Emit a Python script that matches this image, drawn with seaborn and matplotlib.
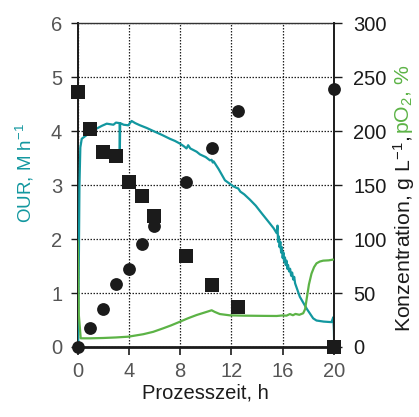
import matplotlib
matplotlib.use("Agg")
import matplotlib.pyplot as plt
import seaborn as sns
import pandas as pd

# ---------------- data ----------------
# squares (concentration, g/L)
sq_time = [0.0, 1.0, 2.0, 3.0, 4.0, 5.0, 6.0, 8.5, 10.5, 12.5, 20.0]
sq_conc = [236, 202, 181, 177, 153, 140, 121, 84, 57, 37, 0]
# circles (concentration, g/L)
ci_time = [0.0, 1.0, 2.0, 3.0, 4.0, 5.0, 6.0, 8.5, 10.5, 12.5, 20.0]
ci_conc = [0, 18, 35, 58, 72, 95, 112, 153, 184, 219, 239]

# OUR line (M/h)
our_time = [0.05, 0.1, 0.15, 0.22, 0.33, 0.72, 1.1, 1.5, 1.9, 2.28, 2.8, 3.0, 3.28, 3.3, 3.33,
            3.6, 3.96, 4.22, 4.5, 4.87, 5.4, 6.04, 6.6, 7.2, 7.6, 7.99, 8.3, 8.5, 8.63, 8.8,
            9.29, 9.55, 10.0, 10.33, 10.46, 10.55, 10.62, 11.0, 11.5, 12.14, 12.4, 12.53, 12.7,
            13.0, 13.45, 13.9, 14.36, 14.9, 15.3, 15.53, 15.6, 15.64, 15.7, 15.76, 15.82, 15.88,
            15.94, 16.0, 16.06, 16.12, 16.18, 16.24, 16.3, 16.36, 16.42, 16.5, 16.58, 16.66,
            16.74, 16.82, 16.9, 16.97, 17.34, 17.9, 18.38, 18.64, 19.2, 19.81, 19.95, 20.0, 20.02]
our_vals = [0.0, 1.5, 3.0, 3.7, 3.86, 3.93, 4.0, 4.05, 4.1, 4.14, 4.12, 4.16, 4.15, 3.65, 4.15,
            4.12, 4.11, 4.19, 4.15, 4.11, 4.06, 3.99, 3.93, 3.86, 3.82, 3.77, 3.72, 3.68, 3.74, 3.68,
            3.62, 3.57, 3.52, 3.46, 3.47, 3.42, 3.44, 3.3, 3.09, 2.98, 2.95, 2.94, 2.88,
            2.83, 2.73, 2.62, 2.48, 2.32, 2.2, 2.11, 2.25, 1.95, 2.05, 1.85, 1.95, 1.75,
            1.85, 1.65, 1.75, 1.58, 1.66, 1.52, 1.6, 1.45, 1.52, 1.4, 1.45, 1.32,
            1.38, 1.25, 1.3, 1.18, 0.93, 0.7, 0.53, 0.49, 0.47, 0.46, 0.55, 0.3, 0.0]

# pO2 line (%)
po2_time = [0.0, 0.02, 0.1, 0.25, 1.0, 2.0, 3.0, 3.96, 5.13, 5.9, 6.69, 7.3, 7.99, 8.6, 9.29,
            9.8, 10.2, 10.46, 10.7, 11.1, 11.88, 13.0, 14.5, 15.53, 16.0, 16.3, 16.56, 16.8, 17.0,
            17.3, 17.6, 17.75, 17.86, 18.05, 18.25, 18.45, 18.64, 18.9, 19.16, 19.6, 19.94]
po2_vals = [99, 95, 30, 8, 8, 8.3, 8.8, 9.5, 11.8, 14.0, 17.3, 20.0, 23.4, 26.5, 29.6,
            31.5, 33.0, 34.0, 32.5, 30.5, 29.3, 29.0, 28.8, 28.7, 29.2, 29.0, 30.5, 29.4, 30.6,
            29.8, 31.2, 35.0, 43.5, 58.0, 68.0, 74.0, 77.5, 79.2, 80.0, 80.3, 81.0]

x_ticks = [0, 4, 8, 12, 16, 20]
y_left_ticks = [0, 1, 2, 3, 4, 5, 6]
y_right_ticks = [0, 50, 100, 150, 200, 250, 300]

# ---------------- style ----------------
sns.set_theme(style="white")
plt.rcParams['font.family'] = ['Liberation Sans', 'DejaVu Sans']
plt.rcParams['mathtext.fontset'] = 'custom'
plt.rcParams['mathtext.rm'] = 'Liberation Sans'
plt.rcParams['mathtext.it'] = 'Liberation Sans'

TEAL = "#12979f"
GREEN = "#5cb346"
BLACK = "#1b1b1b"
GRAY = "#555555"
FS = 14.5

fig = plt.figure(figsize=(4.19, 4.17), dpi=100)
ax = fig.add_axes([0.185, 0.168, 0.612, 0.776])
ax2 = ax.twinx()

df_our = pd.DataFrame({"t": our_time, "v": our_vals})
df_po2 = pd.DataFrame({"t": po2_time, "v": po2_vals})
df_sq = pd.DataFrame({"t": sq_time, "c": sq_conc})
df_ci = pd.DataFrame({"t": ci_time, "c": ci_conc})

sns.lineplot(data=df_our, x="t", y="v", ax=ax, color=TEAL, lw=1.6, sort=False,
             estimator=None, zorder=3)
sns.lineplot(data=df_po2, x="t", y="v", ax=ax2, color=GREEN, lw=1.6, sort=False,
             estimator=None, zorder=3)
sns.scatterplot(data=df_sq, x="t", y="c", ax=ax2, marker="s", s=95, color=BLACK,
                edgecolor=BLACK, linewidth=0, zorder=5, clip_on=False)
sns.scatterplot(data=df_ci, x="t", y="c", ax=ax2, marker="o", s=85, color=BLACK,
                edgecolor=BLACK, linewidth=0, zorder=5, clip_on=False)

ax.set_xlim(0, 20)
ax.set_ylim(0, 6)
ax2.set_ylim(0, 300)
ax.set_xticks(x_ticks)
ax.set_yticks(y_left_ticks)
ax2.set_yticks(y_right_ticks)

ax.grid(True, which="major", linestyle=(0, (1.2, 1.2)), color="#222222", lw=0.9)
ax.set_axisbelow(True)

for a in (ax, ax2):
    for s in a.spines.values():
        s.set_visible(False)
ax.spines['left'].set_visible(True)
ax.spines['left'].set_color(BLACK)
ax.spines['left'].set_linewidth(1.4)
ax.spines['bottom'].set_visible(True)
ax.spines['bottom'].set_color(BLACK)
ax.spines['bottom'].set_linewidth(2.0)
ax2.spines['right'].set_visible(True)
ax2.spines['right'].set_color(BLACK)
ax2.spines['right'].set_linewidth(1.4)
ax.spines['top'].set_visible(True)
ax.spines['top'].set_color("#333333")
ax.spines['top'].set_linewidth(1.0)

ax.tick_params(axis='y', direction='out', length=5, width=1, color=BLACK,
               labelcolor=GRAY, labelsize=FS, pad=6, left=True)
ax.tick_params(axis='x', direction='out', length=6, width=1.2, color=BLACK,
               labelcolor=GRAY, labelsize=FS, pad=5, bottom=True)
ax2.tick_params(axis='y', direction='out', length=6, width=1, color=BLACK,
                labelcolor=BLACK, labelsize=FS, pad=8, right=True)

ax.set_xlabel("Prozesszeit, h", fontsize=14.5, color=BLACK, labelpad=2)
ax2.set_ylabel("")
ax.set_ylabel("")

fig.text(0.06, 1 - 173 / 417, "OUR, M h$^{-1}$", rotation=90, color=TEAL,
         fontsize=13.5, ha='center', va='center')

# two-colour right label, sized to span the same length as the reference
xr = 404 / 419
y0 = 1 - 332 / 417
target = 268.0
fs_r = 14.0
renderer = fig.canvas.get_renderer()
t1 = fig.text(xr, y0, "Konzentration, g L$^{-1}$, ", rotation=90,
              color=BLACK, fontsize=fs_r, ha='center', va='bottom')
t2 = fig.text(xr, y0, "pO$_2$, %", rotation=90, color=GREEN, fontsize=fs_r,
              ha='center', va='bottom')
h = t1.get_window_extent(renderer).height + t2.get_window_extent(renderer).height
fs_r = fs_r * target / h
t1.set_fontsize(fs_r)
t2.set_fontsize(fs_r)
bb = t1.get_window_extent(renderer)
t2.set_y(bb.y1 / fig.bbox.height)

fig.savefig("out.png", dpi=100)
